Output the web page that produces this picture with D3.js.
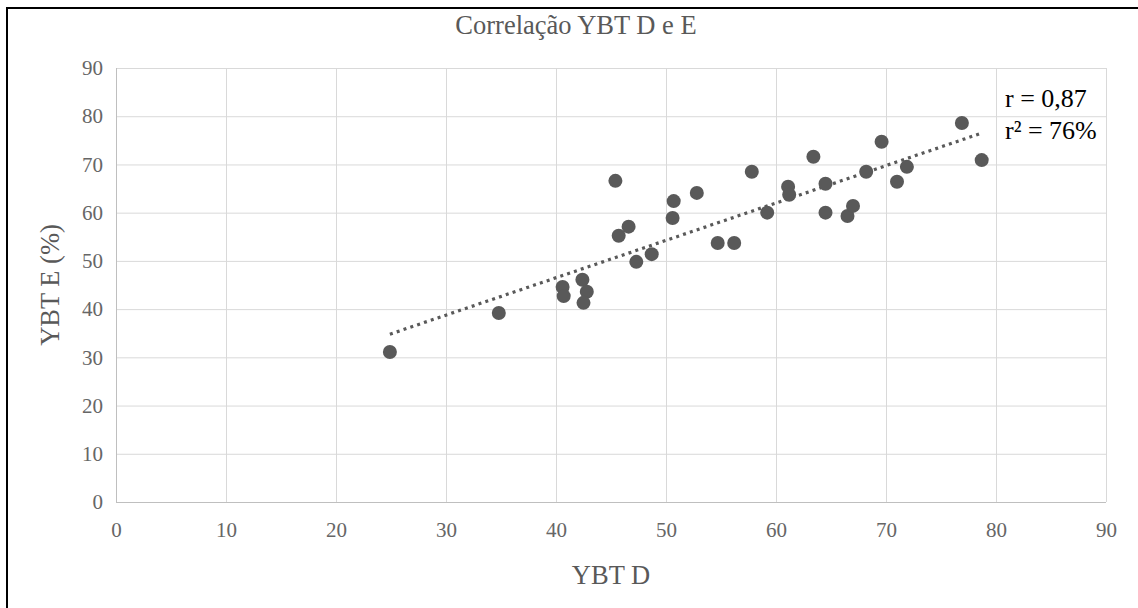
<!DOCTYPE html>
<html><head><meta charset="utf-8">
<script src="https://cdn.jsdelivr.net/npm/d3@7"></script>
<style>body{margin:0;background:#fff}svg{display:block}</style>
</head><body>
<svg id="c" width="1138" height="608"></svg>
<script>
const xValues = [24.9, 34.8, 40.6, 40.7, 42.4, 42.8, 42.5, 45.4, 45.7, 46.6, 47.3, 48.7, 50.7, 50.6, 52.8, 54.7, 56.2, 57.8, 59.2, 61.1, 61.2, 63.4, 64.5, 64.5, 66.5, 67.0, 68.2, 69.6, 71.0, 71.9, 76.9, 78.7];
const yValues = [31.1, 39.2, 44.6, 42.7, 46.1, 43.6, 41.3, 66.6, 55.2, 57.1, 49.8, 51.4, 62.4, 58.9, 64.1, 53.7, 53.7, 68.5, 60.0, 65.4, 63.7, 71.6, 66.0, 60.0, 59.3, 61.4, 68.5, 74.7, 66.4, 69.5, 78.6, 70.9];
const trendX = [24.9, 78.7];
const trendY = [34.8, 76.5];
const xTicks = [0,10,20,30,40,50,60,70,80,90];
const yTicks = [0,10,20,30,40,50,60,70,80,90];
const titleText = "Correlação YBT D e E";
const xTitle = "YBT D";
const yTitle = "YBT E (%)";
const annot = ["r = 0,87", "r² = 76%"];

const svg = d3.select("#c");
const L = 116, R = 1106, T = 68, B = 502;
const x = d3.scaleLinear().domain([0,90]).range([L,R]);
const y = d3.scaleLinear().domain([0,90]).range([B,T]);
const font = "'Liberation Serif', 'DejaVu Serif', serif";
const gray = "#595959";

// border
svg.append("line").attr("x1",7).attr("x2",1138).attr("y1",8).attr("y2",8).attr("stroke","#000").attr("stroke-width",2);
svg.append("line").attr("x1",7).attr("x2",7).attr("y1",7).attr("y2",608).attr("stroke","#000").attr("stroke-width",2);

// grid
const g = svg.append("g");
g.selectAll(".gx").data(xTicks).join("line")
  .attr("x1",d=>x(d)+0.5).attr("x2",d=>x(d)+0.5).attr("y1",T).attr("y2",B)
  .attr("stroke","#d9d9d9").attr("stroke-width",1);
g.selectAll(".gy").data(yTicks).join("line")
  .attr("x1",L).attr("x2",R).attr("y1",d=>y(d)+0.5).attr("y2",d=>y(d)+0.5)
  .attr("stroke","#d9d9d9").attr("stroke-width",1);
svg.append("line").attr("x1",L).attr("x2",R).attr("y1",B+0.5).attr("y2",B+0.5).attr("stroke","#bfbfbf");
svg.append("line").attr("x1",L+0.5).attr("x2",L+0.5).attr("y1",T).attr("y2",B).attr("stroke","#bfbfbf");

// axes via d3 axis
const xAxis = d3.axisBottom(x).tickValues(xTicks).tickSize(0).tickPadding(20);
const gxa = svg.append("g").attr("transform",`translate(0,${B})`).call(xAxis);
gxa.select(".domain").remove();
gxa.selectAll("text").attr("font-family",font).attr("font-size",21).attr("fill","#666");
const yAxis = d3.axisLeft(y).tickValues(yTicks).tickSize(0).tickPadding(13);
const gya = svg.append("g").attr("transform",`translate(${L},0)`).call(yAxis);
gya.select(".domain").remove();
gya.selectAll("text").attr("font-family",font).attr("font-size",21).attr("fill","#666");

// trendline
svg.append("line")
  .attr("x1",x(trendX[0])).attr("y1",y(trendY[0]))
  .attr("x2",x(trendX[1])).attr("y2",y(trendY[1]))
  .attr("stroke",gray).attr("stroke-width",3.2).attr("stroke-dasharray","3,4.2");

// points
svg.selectAll(".pt").data(xValues.map((v,i)=>[v,yValues[i]])).join("circle")
  .attr("cx",d=>x(d[0])).attr("cy",d=>y(d[1])).attr("r",7).attr("fill",gray);

// titles
svg.append("text").attr("x",576).attr("y",34).attr("text-anchor","middle")
  .attr("font-family",font).attr("font-size",26.5).attr("fill",gray).text(titleText);
svg.append("text").attr("x",611).attr("y",584).attr("text-anchor","middle")
  .attr("font-family",font).attr("font-size",26.5).attr("fill",gray).text(xTitle);
svg.append("text").attr("transform","translate(59,285) rotate(-90)").attr("text-anchor","middle")
  .attr("font-family",font).attr("font-size",26.5).attr("fill",gray).text(yTitle);

// annotation
svg.append("text").attr("x",1005).attr("y",107).attr("font-family",font).attr("font-size",26).attr("fill","#000").text(annot[0]);
svg.append("text").attr("x",1005).attr("y",139).attr("font-family",font).attr("font-size",26).attr("fill","#000").text(annot[1]);
</script>
</body></html>
